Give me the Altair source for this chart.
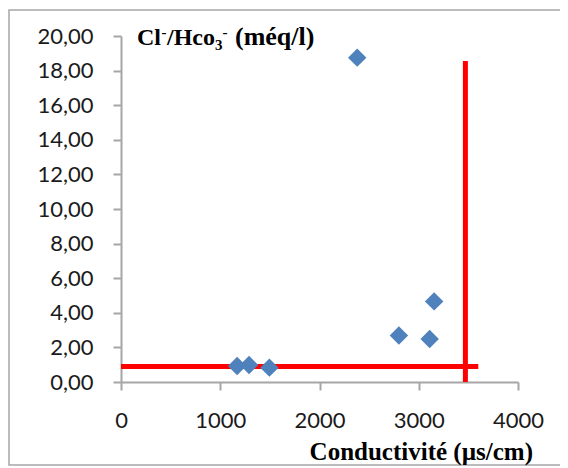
import altair as alt
import pandas as pd

# Data
conductivite = [1170, 1290, 1495, 2380, 2800, 3110, 3155]
ratio = [0.93, 0.98, 0.83, 18.75, 2.69, 2.49, 4.66]

h_line_x = [0, 3600]
h_line_y = 0.9
v_line_x = 3470
v_line_y = [0, 18.55]

x_ticks = [0, 1000, 2000, 3000, 4000]
y_ticks = [0, 2, 4, 6, 8, 10, 12, 14, 16, 18, 20]

x_title = "Conductivité (µs/cm)"
# y title pieces: Cl⁻/Hco₃⁻ (méq/l)
y_title_parts = ["Cl", "-", "/Hco", "3", "-", "(méq/l)"]

pts = pd.DataFrame({"cond": conductivite, "ratio": ratio})
hl = pd.DataFrame({"x1": [h_line_x[0]], "x2": [h_line_x[1]], "y": [h_line_y]})
vl = pd.DataFrame({"x": [v_line_x], "y1": [v_line_y[0]], "y2": [v_line_y[1]]})

axis_common = dict(
    grid=False,
    domainColor="#a6a6a6",
    domainWidth=2,
    tickColor="#a6a6a6",
    tickWidth=2,
    tickSize=8,
    labelFont="Lato",
    labelFontSize=22,
    labelColor="#1a1a1a",
    labelOverlap=False,
    title=None,
)

x_axis = alt.Axis(values=x_ticks, format="d", labelPadding=20,
                  labelFlush=False, **axis_common)
y_axis = alt.Axis(values=y_ticks,
                  labelExpr="replace(format(datum.value, '.2f'), '.', ',')",
                  labelPadding=20, **axis_common)

xscale = alt.Scale(domain=[0, 4000], nice=False, zero=True)
yscale = alt.Scale(domain=[0, 20], nice=False, zero=True)

points = alt.Chart(pts).mark_point(
    shape="diamond", filled=True, color="#4F81BD", opacity=1, size=340
).encode(
    x=alt.X("cond:Q", scale=xscale, axis=x_axis),
    y=alt.Y("ratio:Q", scale=yscale, axis=y_axis),
)

hrule = alt.Chart(hl).mark_rule(color="#ff0000", strokeWidth=5).encode(
    x=alt.X("x1:Q", scale=xscale, axis=x_axis),
    x2="x2:Q",
    y=alt.Y("y:Q", scale=yscale, axis=y_axis),
)
vrule = alt.Chart(vl).mark_rule(color="#ff0000", strokeWidth=5).encode(
    x=alt.X("x:Q", scale=xscale, axis=x_axis),
    y=alt.Y("y1:Q", scale=yscale, axis=y_axis),
    y2="y2:Q",
)

one = alt.Data(values=[{"a": 1}])

border = alt.Chart(one).mark_rect(
    fillOpacity=0, stroke="#a6a6a6", strokeWidth=1.5
).encode(
    x=alt.value(-112), x2=alt.value(440), y=alt.value(-26), y2=alt.value(429)
)


def txt(s, x, y, size, align="left"):
    return alt.Chart(one).mark_text(
        text=s, font="Liberation Serif", fontWeight="bold", fontSize=size,
        align=align, baseline="alphabetic", color="#000000"
    ).encode(x=alt.value(x), y=alt.value(y))


base_y = 9
ytitle = [
    txt(y_title_parts[0], 16, base_y, 24),
    txt(y_title_parts[1], 40.5, base_y - 8, 15),
    txt(y_title_parts[2], 46, base_y, 24),
    txt(y_title_parts[3], 94, base_y + 5, 15),
    txt(y_title_parts[4], 101.5, base_y - 8, 15),
    txt(y_title_parts[5], 114, base_y, 26),
]

xtitle = txt(x_title, 412, 424, 25, align="right")

chart = alt.layer(hrule, vrule, points, border, *ytitle, xtitle).properties(
    width=397,
    height=346,
    autosize=alt.AutoSizeParams(type="none"),
    padding={"left": 113, "top": 28, "right": 42, "bottom": 86},
    background="white",
).configure_view(stroke=None)

chart.save("out.html", embed_options={"renderer": "svg", "actions": False})
